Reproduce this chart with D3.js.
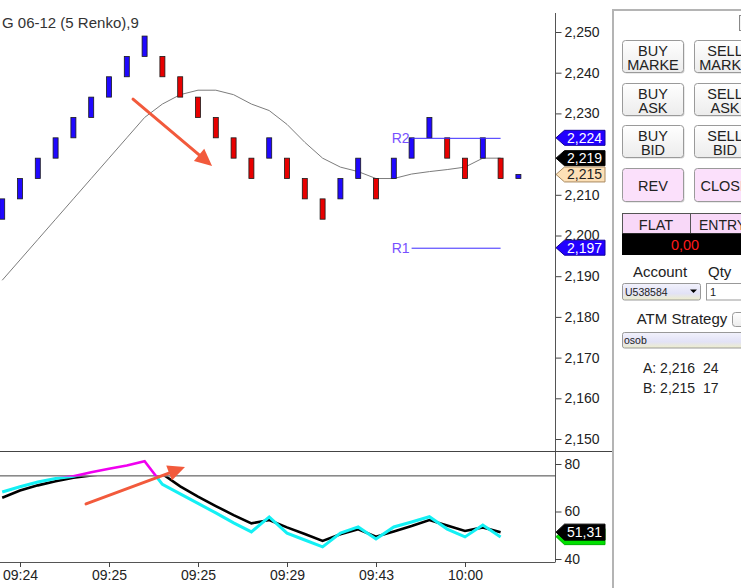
<!DOCTYPE html>
<html><head><meta charset="utf-8">
<script src="https://cdn.jsdelivr.net/npm/d3@7"></script>
<style>
body{margin:0;background:#fff;overflow:hidden}
svg{display:block;font-family:"Liberation Sans",Arial,sans-serif}
</style>
</head><body>
<svg id="c" width="741" height="588"></svg>
<script>
// ---------- DATA ----------
const chartTitle = "G 06-12 (5 Renko),9";
const brickOpen  = [2.204,2.209,2.214,2.219,2.224,2.229,2.234,2.239,2.244,2.244,2.239,2.234,2.229,2.224,2.219,2.219,2.219,2.214,2.209,2.209,2.214,2.214,2.214,2.219,2.224,2.224,2.219,2.219,2.219,2.214];
const brickClose = [2.209,2.214,2.219,2.224,2.229,2.234,2.239,2.244,2.249,2.239,2.234,2.229,2.224,2.219,2.214,2.224,2.214,2.209,2.204,2.214,2.219,2.209,2.219,2.224,2.229,2.219,2.214,2.224,2.214,2.215];
const maValues   = [2.189,2.194,2.199,2.204,2.209,2.214,2.219,2.224,2.229,2.2323,2.2346,2.2357,2.2357,2.2346,2.2323,2.2307,2.2273,2.2229,2.2190,2.2168,2.2157,2.2140,2.2140,2.2151,2.2157,2.2162,2.2168,2.2190,2.2190];
const oscBlack   = [65.8,68.8,71.0,72.7,74.2,75.2,76.0,76.6,76.8,75.8,70.6,66.3,62.3,58.5,55.0,56.4,53.3,50.5,47.6,50.4,52.5,49.4,51.6,53.9,56.4,54.1,51.8,53.3,51.31];
const oscCyan    = [68.2,70.4,72.4,73.9,74.8,76.5,78.0,79.4,81.2,71.4,67.4,63.4,59.4,55.2,51.4,57.7,50.9,48.0,45.1,50.9,53.5,48.4,53.5,55.6,57.8,52.6,49.3,54.3,49.3];
const oscLevel   = 75;
const priceTicks = [2.150,2.160,2.170,2.180,2.190,2.200,2.210,2.230,2.240,2.250];
const oscTicks   = [40,60,80];
const timeLabels = ["09:24","09:25","09:25","09:29","09:43","10:00"];
const timeIndex  = [1,6,11,16,21,26];
const levelNames = ["R2","R1"];
const levelValues= [2.224,2.197];
const levelFrom  = 23, levelTo = 28;
const tagValues  = [2.224,2.219,2.215,2.197];
const tagKinds   = ["level","last","bid","level"];
const arrowMain  = [[7.35,2.2335],[11.79,2.2171]];
const arrowOsc   = [[4.71,63.2],[10.27,78.7]];
const buttonRows = [["BUY","MARKE","SELL","MARKE"],["BUY","ASK","SELL","ASK"],["BUY","BID","SELL","BID"]];
const quoteNames = ["A","B"];
const quotePrices= [2.216,2.215];
const quoteSizes = [24,17];

// ---------- SETUP ----------
const svg = d3.select("#c");
const loc = d3.formatLocale({decimal:",",thousands:".",grouping:[3],currency:["",""]});
const fPrice = loc.format(".3f"), fOsc = loc.format(".2f");
const x  = d3.scaleLinear().domain([0,29]).range([2.2, 2.2+29*17.8]);
const y  = d3.scaleLinear().domain([2.150,2.250]).range([439,32]);
const yo = d3.scaleLinear().domain([40,80]).range([559,464]);
const AX = 555.5;
const defs = svg.append("defs");

// ---------- MAIN PANEL ----------
svg.append("text").attr("x",2).attr("y",28).attr("font-size",15).attr("fill","#333").text(chartTitle);

svg.append("path").attr("d",d3.line().x((d,i)=>x(i)).y(d=>y(d))(maValues))
  .attr("fill","none").attr("stroke","#7c7c7c").attr("stroke-width",1);

svg.append("g").selectAll("rect").data(brickOpen).join("rect")
  .attr("x",(d,i)=>x(i)-2.5).attr("width",5)
  .attr("y",(d,i)=>y(Math.max(d,brickClose[i])))
  .attr("height",(d,i)=>Math.abs(y(d)-y(brickClose[i])))
  .attr("fill",(d,i)=>brickClose[i]>=d?"#2008ff":"#e80000")
  .attr("stroke","#1a1a1a").attr("stroke-width",0.8);

// R levels
const lv = svg.append("g");
levelValues.forEach((v,i)=>{
  lv.append("line").attr("x1",x(levelFrom)).attr("x2",x(levelTo)).attr("y1",y(v)+0.5).attr("y2",y(v)+0.5)
    .attr("stroke","#3a2aff").attr("stroke-width",1);
  lv.append("text").attr("x",x(levelFrom)-2).attr("y",y(v)+5).attr("text-anchor","end")
    .attr("font-size",14).attr("fill","#7650ff").text(levelNames[i]);
});

// price axis
const ga = svg.append("g").attr("transform",`translate(${AX},0)`)
  .call(d3.axisRight(y).tickValues(priceTicks).tickFormat(fPrice).tickSize(6).tickPadding(3));
ga.select(".domain").remove();
ga.selectAll("line").attr("stroke","#444");
ga.selectAll("text").attr("font-size",14).attr("fill","#222").attr("font-family","Liberation Sans, Arial, sans-serif");
svg.append("line").attr("x1",AX).attr("x2",AX).attr("y1",13).attr("y2",562).attr("stroke","#555");

// arrows
function arrow(p0,p1){
  const [x0,y0]=p0,[x1,y1]=p1;
  const a=Math.atan2(y1-y0,x1-x0), L=17, W=8;
  const bx=x1-L*Math.cos(a), by=y1-L*Math.sin(a);
  const g=svg.append("g");
  g.append("line").attr("x1",x0).attr("y1",y0).attr("x2",bx+2*Math.cos(a)).attr("y2",by+2*Math.sin(a))
    .attr("stroke","#f25a3c").attr("stroke-width",3).attr("stroke-linecap","round");
  g.append("path").attr("d",`M${x1},${y1}L${bx+W*Math.sin(a)},${by-W*Math.cos(a)}L${bx-W*Math.sin(a)},${by+W*Math.cos(a)}Z`)
    .attr("fill","#f25a3c");
}

// ---------- OSC PANEL ----------
svg.append("line").attr("x1",0).attr("x2",613).attr("y1",451.5).attr("y2",451.5).attr("stroke","#444").attr("stroke-width",1.2);
svg.append("line").attr("x1",0).attr("x2",AX).attr("y1",yo(oscLevel)).attr("y2",yo(oscLevel)).attr("stroke","#444");
svg.append("line").attr("x1",0).attr("x2",AX).attr("y1",562.5).attr("y2",562.5).attr("stroke","#555");

defs.append("clipPath").attr("id","below").append("rect").attr("x",0).attr("width",AX).attr("y",yo(oscLevel)+0.5).attr("height",562-yo(oscLevel));
defs.append("clipPath").attr("id","above").append("rect").attr("x",0).attr("width",AX).attr("y",452).attr("height",yo(oscLevel)-452+0.5);
const oline = d3.line().x((d,i)=>x(i)).y(d=>yo(d));
svg.append("path").attr("d",oline(oscBlack)).attr("clip-path","url(#below)")
  .attr("fill","none").attr("stroke","#000").attr("stroke-width",2.6);
svg.append("path").attr("d",oline(oscCyan)).attr("clip-path","url(#below)")
  .attr("fill","none").attr("stroke","#14f0f4").attr("stroke-width",3);
svg.append("path").attr("d",oline(oscCyan)).attr("clip-path","url(#above)")
  .attr("fill","none").attr("stroke","#f000f0").attr("stroke-width",2.6);

const go = svg.append("g").attr("transform",`translate(${AX},0)`)
  .call(d3.axisRight(yo).tickValues(oscTicks).tickFormat(d3.format("d")).tickSize(6).tickPadding(3));
go.select(".domain").remove();
go.selectAll("line").attr("stroke","#444");
go.selectAll("text").attr("font-size",14).attr("fill","#222").attr("font-family","Liberation Sans, Arial, sans-serif");

const gt = svg.append("g").attr("transform","translate(0,562)")
  .call(d3.axisBottom(x).tickValues(timeIndex).tickFormat((d,i)=>timeLabels[i]).tickSize(5).tickPadding(3));
gt.select(".domain").remove();
gt.selectAll("line").attr("stroke","#444");
gt.selectAll("text").attr("font-size",14).attr("fill","#222").attr("font-family","Liberation Sans, Arial, sans-serif");

arrow([x(arrowMain[0][0]),y(arrowMain[0][1])],[x(arrowMain[1][0]),y(arrowMain[1][1])]);
arrow([x(arrowOsc[0][0]),yo(arrowOsc[0][1])],[x(arrowOsc[1][0]),yo(arrowOsc[1][1])]);

// ---------- TAGS ----------
const tagStyle = {level:{fill:"#2200ff",stroke:"#10009a",text:"#fff"},
                  last:{fill:"#000",stroke:"#000",text:"#fff"},
                  bid:{fill:"#fde0b6",stroke:"#a88a60",text:"#222"}};
function tag(yc,label,st,h){
  h=h||15;
  const g=svg.append("g");
  g.append("path").attr("d",`M${AX+0.5},${yc}L${AX+9},${yc-h/2}H605V${yc+h/2}H${AX+9}Z`)
    .attr("fill",st.fill).attr("stroke",st.stroke).attr("stroke-width",1);
  g.append("text").attr("x",567).attr("y",yc+5).attr("font-size",14).attr("fill",st.text).text(label);
}
tagValues.forEach((v,i)=>tag(y(v),fPrice(v),tagStyle[tagKinds[i]]));
const lastOsc = oscBlack[oscBlack.length-1];
tag(yo(lastOsc)+4.5,"",{fill:"#00e000",stroke:"#00b000",text:"#fff"},16);
tag(yo(lastOsc),fOsc(lastOsc),{fill:"#000",stroke:"#000",text:"#fff"},16);

// ---------- RIGHT PANEL ----------
svg.append("path").attr("d","M613,588V10H741").attr("fill","none").attr("stroke","#b4b4b4").attr("stroke-width",2);
svg.append("rect").attr("x",739.5).attr("y",15.5).attr("width",10).attr("height",15).attr("fill","#f4f4f4").attr("stroke","#888");

const bg = defs.append("linearGradient").attr("id","btn").attr("x1",0).attr("x2",0).attr("y1",0).attr("y2",1);
bg.append("stop").attr("offset","0%").attr("stop-color","#ffffff");
bg.append("stop").attr("offset","100%").attr("stop-color","#ececec");
const dd = defs.append("linearGradient").attr("id","dd").attr("x1",0).attr("x2",0).attr("y1",0).attr("y2",1);
dd.append("stop").attr("offset","0%").attr("stop-color","#f2f2fc");
dd.append("stop").attr("offset","60%").attr("stop-color","#e2e2f6");
dd.append("stop").attr("offset","100%").attr("stop-color","#eeeecc");

function button(x0,y0,w,h,fill,lines){
  svg.append("rect").attr("x",x0+1).attr("y",y0+1).attr("width",w).attr("height",h).attr("rx",3).attr("fill","#d6d6d6");
  svg.append("rect").attr("x",x0).attr("y",y0).attr("width",w).attr("height",h).attr("rx",3)
    .attr("fill",fill).attr("stroke","#9a9a9a");
  const cx=x0+w/2;
  if(lines.length===2){
    svg.append("text").attr("x",cx).attr("y",y0+15).attr("text-anchor","middle").attr("font-size",14.5).attr("fill","#222").text(lines[0]);
    svg.append("text").attr("x",cx).attr("y",y0+29.5).attr("text-anchor","middle").attr("font-size",14.5).attr("fill","#222").text(lines[1]);
  } else {
    svg.append("text").attr("x",cx).attr("y",y0+h/2+5.5).attr("text-anchor","middle").attr("font-size",14.5).attr("fill","#222").text(lines[0]);
  }
}
const rowY=[40.5,83.5,125.5];
buttonRows.forEach((r,i)=>{
  button(622.5,rowY[i],61,32,"url(#btn)",[r[0],r[1]]);
  button(694.5,rowY[i],61,32,"url(#btn)",[r[2],r[3]]);
});
button(622.5,168.5,61,33,"#fbe0fb",["REV"]);
button(694.5,168.5,61,33,"#fbe0fb",["CLOSE"]);

svg.append("rect").attr("x",622.5).attr("y",213.5).attr("width",130).attr("height",20).attr("fill","#f8d8f8").attr("stroke","#555");
svg.append("line").attr("x1",690.5).attr("x2",690.5).attr("y1",213.5).attr("y2",233.5).attr("stroke","#555");
svg.append("text").attr("x",656).attr("y",230).attr("text-anchor","middle").attr("font-size",14.5).attr("fill","#222").text("FLAT");
svg.append("text").attr("x",699).attr("y",230).attr("font-size",14).attr("fill","#222").text("ENTRY");
svg.append("rect").attr("x",622).attr("y",233.5).attr("width",130).attr("height",21.5).attr("fill","#000");
svg.append("text").attr("x",685).attr("y",250).attr("text-anchor","middle").attr("font-size",14.5).attr("fill","#ff1a1a").text(loc.format(".2f")(0));

svg.append("text").attr("x",660).attr("y",277).attr("text-anchor","middle").attr("font-size",15).attr("fill","#222").text("Account");
svg.append("text").attr("x",708).attr("y",277).attr("font-size",15).attr("fill","#222").text("Qty");
svg.append("rect").attr("x",622.5).attr("y",283.5).attr("width",78).attr("height",16.5).attr("rx",2).attr("fill","url(#dd)").attr("stroke","#999");
svg.append("text").attr("x",625).attr("y",296).attr("font-size",10.5).attr("fill","#222").text("U538584");
svg.append("path").attr("d","M690,289.5h7l-3.5,3.5z").attr("fill","#000");
svg.append("rect").attr("x",706.5).attr("y",283.5).attr("width",40).attr("height",16.5).attr("fill","#fff").attr("stroke","#999");
svg.append("text").attr("x",710).attr("y",295.5).attr("font-size",11).attr("fill","#222").text("1");

svg.append("text").attr("x",682).attr("y",323.5).attr("text-anchor","middle").attr("font-size",15).attr("fill","#222").text("ATM Strategy");
svg.append("rect").attr("x",732.5).attr("y",312.5).attr("width",16).attr("height",14).attr("rx",3).attr("fill","url(#btn)").attr("stroke","#999");
svg.append("rect").attr("x",622.5).attr("y",332.5).attr("width",124).attr("height",15.5).attr("rx",2).attr("fill","url(#dd)").attr("stroke","#999");
svg.append("text").attr("x",624).attr("y",344).attr("font-size",10.5).attr("fill","#222").text("osob");

quoteNames.forEach((n,i)=>{
  svg.append("text").attr("x",643).attr("y",373+i*20).attr("font-size",14).attr("fill","#222").text(n+": "+fPrice(quotePrices[i]));
  svg.append("text").attr("x",703).attr("y",373+i*20).attr("font-size",14).attr("fill","#222").text(quoteSizes[i]);
});
</script>
</body></html>
